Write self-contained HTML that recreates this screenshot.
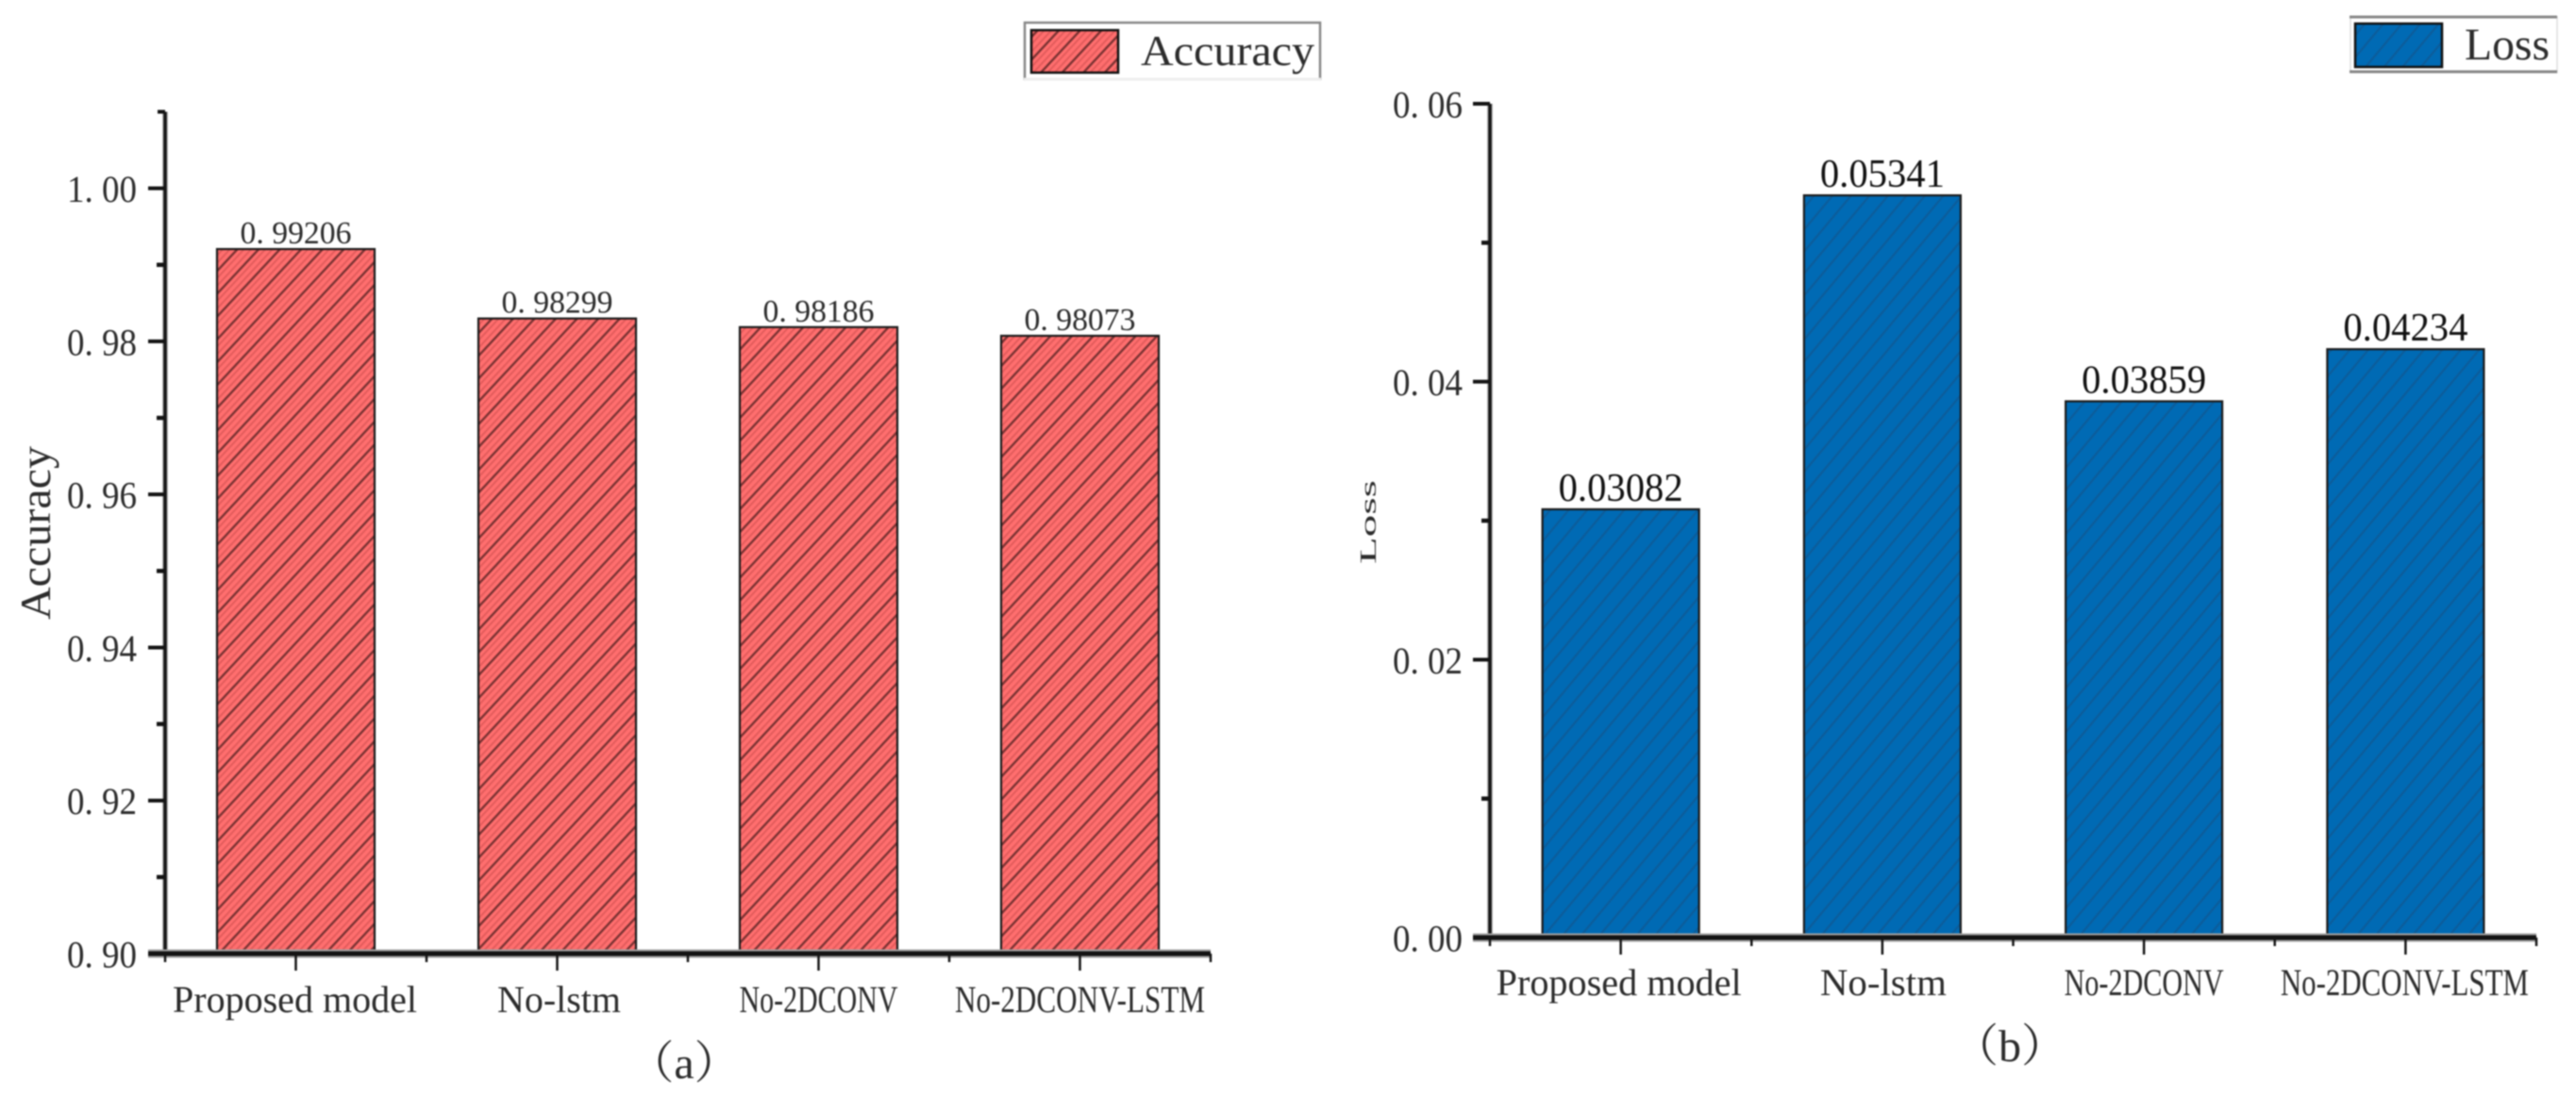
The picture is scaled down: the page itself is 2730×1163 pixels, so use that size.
<!DOCTYPE html>
<html lang="en">
<head>
<meta charset="utf-8">
<title>Accuracy and Loss bar charts</title>
<style>
html,body{margin:0;padding:0;background:#fff;}
body{width:2730px;height:1163px;overflow:hidden;}
svg{display:block;filter:blur(0.7px);}
text{font-family:"Liberation Serif","Noto Serif CJK SC",serif;fill:#2c2c2c;}
</style>
</head>
<body>
<svg id="figure" xmlns="http://www.w3.org/2000/svg" width="2730" height="1163" viewBox="0 0 2730 1163">
  <defs>
    <pattern id="hatch-red" patternUnits="userSpaceOnUse" width="20" height="16.5" patternTransform="rotate(-47)">
      <rect width="20" height="16.5" fill="#ff6e6e"/>
      <rect y="0" width="20" height="2.4" fill="#7a3232"/>
      <rect y="5.5" width="20" height="1.8" fill="#e05a5a"/>
      <rect y="11" width="20" height="1.8" fill="#e05a5a"/>
    </pattern>
    <pattern id="hatch-blue" patternUnits="userSpaceOnUse" width="20" height="15" patternTransform="rotate(-50)">
      <rect width="20" height="15" fill="#006ab4"/>
      <rect y="0" width="20" height="2.2" fill="#0c5c9a"/>
    </pattern>
  </defs>
  <rect width="2730" height="1163" fill="#fff"/>
  <g id="panel-a"></g>
  <g id="panel-b"></g>

  <g>
    <rect x="1086" y="24" width="313" height="60" fill="#fff" stroke="#888" stroke-width="2.5"/>
    <line x1="1085" y1="84" x2="1400" y2="84" stroke="#eee" stroke-width="3"/>
    <rect x="1093" y="32" width="92" height="45" fill="url(#hatch-red)" stroke="#111" stroke-width="2.5"/>
    <text x="1209" y="69" font-size="46" textLength="184" lengthAdjust="spacingAndGlyphs">Accuracy</text>
  </g>
  <g>
    <rect x="2491" y="18" width="219" height="59" fill="#fff" stroke="#ddd" stroke-width="1.5"/>
    <line x1="2490" y1="18" x2="2710" y2="18" stroke="#888" stroke-width="3"/>
    <line x1="2490" y1="76" x2="2710" y2="76" stroke="#888" stroke-width="3"/>
    <rect x="2496" y="25" width="92" height="46" fill="url(#hatch-blue)" stroke="#111" stroke-width="2.5"/>
    <text x="2612" y="63" font-size="48" textLength="90" lengthAdjust="spacingAndGlyphs">Loss</text>
  </g>

  <text transform="translate(53,657) rotate(-90)" font-size="46" textLength="184" lengthAdjust="spacingAndGlyphs">Accuracy</text>
  <text transform="translate(1458,598) rotate(-90)" font-size="24" textLength="89" lengthAdjust="spacingAndGlyphs">Loss</text>
  <text x="725" y="1143" font-size="48" text-anchor="middle">（a）</text>
  <text x="2130" y="1125" font-size="48" text-anchor="middle">（b）</text>
</svg>

<script>
const categories = ["Proposed model", "No-lstm", "No-2DCONV", "No-2DCONV-LSTM"];
const accuracyValues = [0.99206, 0.98299, 0.98186, 0.98073];
const lossValues = [0.03082, 0.05341, 0.03859, 0.04234];
const accuracyTicks = [0.90, 0.92, 0.94, 0.96, 0.98, 1.00];
const accuracyMinorTicks = [0.91, 0.93, 0.95, 0.97, 0.99];
const lossTicks = [0.00, 0.02, 0.04, 0.06];
const lossMinorTicks = [0.01, 0.03, 0.05];

const SVG_NS = "http://www.w3.org/2000/svg";

function make(tag, attrs, parent) {
  const el = document.createElementNS(SVG_NS, tag);
  for (const k in attrs) el.setAttribute(k, attrs[k]);
  parent.appendChild(el);
  return el;
}

function drawPanel(cfg) {
  const root = document.getElementById(cfg.id);
  const yScale = v => cfg.bottom - (v - cfg.min) / (cfg.max - cfg.min) * (cfg.bottom - cfg.top);
  const step = (cfg.right - cfg.left) / cfg.categories.length;
  const xScale = i => cfg.left + (i + 0.5) * step;

  // bars and printed values
  cfg.values.forEach((v, i) => {
    const bar = make("rect", {
      x: xScale(i) - cfg.barWidth / 2,
      y: yScale(v),
      width: cfg.barWidth,
      height: cfg.bottom - yScale(v),
      fill: "url(#" + cfg.hatch + ")",
      stroke: "#1c1c1c",
      "stroke-width": 2.2
    }, root);
    
    

    const label = make("text", {
      x: xScale(i) - cfg.valueWidth / 2,
      y: yScale(v) - cfg.valueGap,
      "font-size": cfg.valueFont,
      textLength: cfg.valueWidth,
      lengthAdjust: "spacingAndGlyphs",
      style: "fill:" + cfg.valueColor
    }, root);
    label.textContent = cfg.formatValue(v);
    
    
  });

  // y axis
  const yHalo = make("line", {x1: cfg.left, x2: cfg.left, y1: yScale(cfg.max), y2: cfg.bottom, stroke: "#b5b5b5", "stroke-width": 6}, root);
  
  
  const yAxis = make("line", {x1: cfg.left, x2: cfg.left, y1: yScale(cfg.max), y2: cfg.bottom, stroke: "#141414", "stroke-width": 3.5}, root);
  
  

  if (cfg.max > cfg.ticks[cfg.ticks.length - 1]) {
    const cap = make("line", {x1: cfg.left - 8, x2: cfg.left, y1: yScale(cfg.max), y2: yScale(cfg.max), stroke: "#141414", "stroke-width": 4}, root);
    
    
  }

  cfg.ticks.forEach(t => {
    const tick = make("line", {x1: cfg.left - 18, x2: cfg.left, y1: yScale(t), y2: yScale(t), stroke: "#141414", "stroke-width": 4}, root);
    
    
    const lab = make("text", {
      x: cfg.left + cfg.tickLabelRight - 74,
      y: yScale(t) + 14.5,
      "font-size": 40,
      textLength: 74,
      lengthAdjust: "spacingAndGlyphs"
    }, root);
    lab.textContent = t.toFixed(2).replace(".", ". ");
    
    
  });

  cfg.minorTicks.forEach(t => {
    const tick = make("line", {x1: cfg.left - 9, x2: cfg.left, y1: yScale(t), y2: yScale(t), stroke: "#141414", "stroke-width": 4.5}, root);
    
    
  });

  // x axis
  const xHalo = make("line", {x1: cfg.left - 18, x2: cfg.right, y1: cfg.bottom, y2: cfg.bottom, stroke: "#a0a0a0", "stroke-width": 9}, root);
  
  
  const xAxis = make("line", {x1: cfg.left - 18, x2: cfg.right, y1: cfg.bottom, y2: cfg.bottom, stroke: "#141414", "stroke-width": 5}, root);
  
  

  cfg.categories.forEach((c, i) => {
    const tick = make("line", {x1: xScale(i), x2: xScale(i), y1: cfg.bottom, y2: cfg.bottom + 18, stroke: "#141414", "stroke-width": 2.5}, root);
    
    

    const lab = make("text", {
      x: xScale(i) - cfg.labelInkWidths[i] / 2 + cfg.labelShifts[i],
      y: cfg.labelBaseline,
      "font-size": 40,
      textLength: cfg.labelInkWidths[i],
      lengthAdjust: "spacingAndGlyphs"
    }, root);
    lab.textContent = c;
    
    
  });

  for (let i = 0; i <= cfg.categories.length; i++) {
    const mx = cfg.left + i * step;
    const tick = make("line", {x1: mx, x2: mx, y1: cfg.bottom, y2: cfg.bottom + 9, stroke: "#141414", "stroke-width": 2.5}, root);
    
    
  }
}

drawPanel({
  id: "panel-a", key: "accuracy", hatch: "hatch-red",
  categories: categories, values: accuracyValues,
  ticks: accuracyTicks, minorTicks: accuracyMinorTicks,
  min: 0.90, max: 1.01, left: 175, right: 1283, top: 118.5, bottom: 1011,
  barWidth: 167, valueFont: 34, valueWidth: 118, valueGap: 6, valueColor: "#2c2c2c", tickLabelRight: -30,
  labelBaseline: 1073,
  labelInkWidths: [259, 131, 168, 265],
  labelShifts: [-1, 2, 0, 0],
  formatValue: v => v.toFixed(5).replace(".", ". ")
});

drawPanel({
  id: "panel-b", key: "loss", hatch: "hatch-blue",
  categories: categories, values: lossValues,
  ticks: lossTicks, minorTicks: lossMinorTicks,
  min: 0, max: 0.06, left: 1579, right: 2688, top: 110, bottom: 994,
  barWidth: 166, valueFont: 42, valueWidth: 132, valueGap: 9, valueColor: "#111", tickLabelRight: -29,
  labelBaseline: 1055,
  labelInkWidths: [260, 134, 169, 263],
  labelShifts: [-2, 1, 0, -1],
  formatValue: v => v.toFixed(5)
});
</script>
</body>
</html>
